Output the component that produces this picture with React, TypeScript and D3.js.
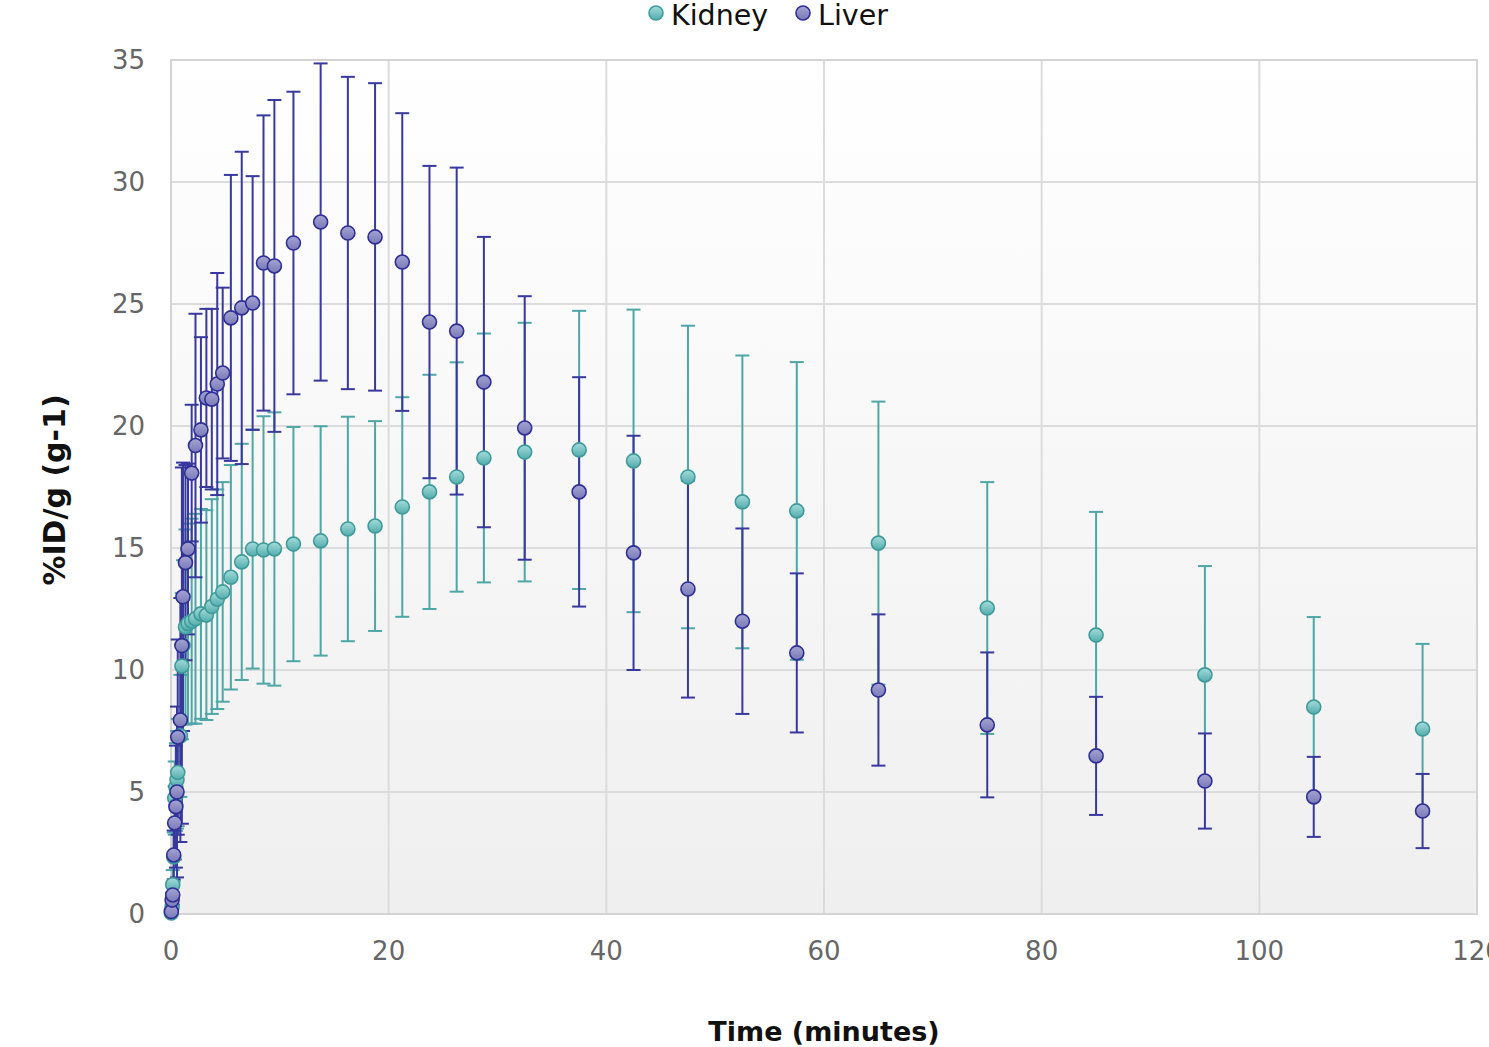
import React from "react";
import * as d3 from "d3";

const times = [0.03, 0.1, 0.16, 0.25, 0.34, 0.45, 0.55, 0.62, 0.86, 1.0, 1.1, 1.33, 1.56, 1.9,
  2.25, 2.75, 3.25, 3.75, 4.25, 4.75,
  5.5, 6.5, 7.5, 8.5, 9.5,
  11.25, 13.75, 16.25, 18.75, 21.25, 23.75, 26.25, 28.75,
  32.5, 37.5, 42.5, 47.5, 52.5, 57.5,
  65, 75, 85, 95, 105, 115];

const kidneyMean = [0.04, 0.3, 1.2, 2.34, 4.75, 5.2, 5.5, 5.8, 7.3, 10.16, 11.0, 11.76, 11.9, 12.0,
  12.1, 12.3, 12.25, 12.6, 12.9, 13.2,
  13.8, 14.43, 14.96, 14.92, 14.96,
  15.16, 15.29, 15.78, 15.9, 16.68, 17.3, 17.91, 18.69,
  18.93, 19.02, 18.57, 17.91, 16.89, 16.52,
  15.2, 12.54, 11.43, 9.8, 8.48, 7.58];

const kidneySd = [0.05, 0.3, 0.6, 1.0, 1.5, 1.8, 2.0, 2.2, 2.5, 3.0, 3.5, 4.0, 4.1, 4.2,
  4.3, 4.3, 4.3, 4.4, 4.5, 4.5,
  4.6, 4.84, 4.9, 5.48, 5.6,
  4.8, 4.7, 4.6, 4.3, 4.5, 4.8, 4.7, 5.1,
  5.3, 5.7, 6.2, 6.2, 6.0, 6.1,
  5.8, 5.16, 5.05, 4.46, 3.69, 3.49];

const liverMean = [0.1, 0.57, 0.78, 2.42, 3.73, 4.4, 5.0, 7.25, 7.95, 11.0, 13.0, 14.4, 14.96, 18.07,
  19.2, 19.84, 21.15, 21.1, 21.72, 22.17,
  24.43, 24.84, 25.04, 26.68, 26.56,
  27.5, 28.36, 27.91, 27.75, 26.72, 24.26, 23.89, 21.8,
  19.92, 17.3, 14.8, 13.32, 12.0, 10.7,
  9.18, 7.75, 6.48, 5.45, 4.8, 4.22];

const liverSd = [0.1, 0.3, 0.4, 1.0, 1.5, 2.5, 3.5, 4.0, 5.0, 7.3, 5.5, 4.0, 3.5, 2.8,
  5.4, 3.8, 3.65, 3.7, 4.55, 3.5,
  5.86, 6.4, 5.2, 6.05, 6.8,
  6.2, 6.5, 6.4, 6.3, 6.1, 6.4, 6.7, 5.95,
  5.4, 4.7, 4.8, 4.45, 3.8, 3.26,
  3.1, 2.97, 2.42, 1.95, 1.64, 1.52];

const xTicks = [0, 20, 40, 60, 80, 100, 120];
const yTicks = [0, 5, 10, 15, 20, 25, 30, 35];
const seriesNames = ["Kidney", "Liver"];

const W = 1489;
const H = 1047;
const plot = { left: 171, top: 60, right: 1477, bottom: 914 };
const FONT = "'DejaVu Sans', Verdana, sans-serif";

const colors = {
  Kidney: { fill: "url(#kidGrad)", stroke: "#3f9a9a", bar: "#4ea6a6" },
  Liver: { fill: "url(#livGrad)", stroke: "#2e2e96", bar: "#38389e" },
};

export default function App() {
  const x = d3.scaleLinear().domain([0, 120]).range([plot.left, plot.right]);
  const y = d3.scaleLinear().domain([0, 35]).range([plot.bottom, plot.top]);

  const series = [
    { name: "Kidney", mean: kidneyMean, sd: kidneySd },
    { name: "Liver", mean: liverMean, sd: liverSd },
  ];

  const whisk = 7;

  return (
    <div>
      <style>{"body{margin:0}"}</style>
      <svg width={W} height={H} style={{ display: "block", fontFamily: FONT }}>
        <defs>
          <linearGradient id="bgGrad" x1="0" y1="0" x2="0" y2="1">
            <stop offset="0" stopColor="#ffffff" />
            <stop offset="1" stopColor="#efefef" />
          </linearGradient>
          <linearGradient id="kidGrad" x1="0" y1="0" x2="0" y2="1">
            <stop offset="0" stopColor="#a6dcdc" />
            <stop offset="1" stopColor="#52acac" />
          </linearGradient>
          <linearGradient id="livGrad" x1="0" y1="0" x2="0" y2="1">
            <stop offset="0" stopColor="#a4a4d2" />
            <stop offset="1" stopColor="#7a7ab8" />
          </linearGradient>
        </defs>
        <rect x={0} y={0} width={W} height={H} fill="#ffffff" />
        <rect x={plot.left} y={plot.top} width={plot.right - plot.left} height={plot.bottom - plot.top} fill="url(#bgGrad)" />
        {yTicks.map((t) => (
          <line key={"gy" + t} x1={plot.left} x2={plot.right} y1={y(t)} y2={y(t)} stroke="#dcdcdc" strokeWidth={2} />
        ))}
        {xTicks.map((t) => (
          <line key={"gx" + t} x1={x(t)} x2={x(t)} y1={plot.top} y2={plot.bottom} stroke="#dcdcdc" strokeWidth={2} />
        ))}
        <rect x={plot.left} y={plot.top} width={plot.right - plot.left} height={plot.bottom - plot.top} fill="none" stroke="#d4d4d4" strokeWidth={2} />
        {yTicks.map((t) => (
          <text key={"ty" + t} x={145} y={y(t)} dy="0.36em" textAnchor="end" fontSize={26} fill="#666666">{t}</text>
        ))}
        {xTicks.map((t) => (
          <text key={"tx" + t} x={x(t)} y={960} textAnchor="middle" fontSize={26} fill="#666666">{t}</text>
        ))}
        <text x={(plot.left + plot.right) / 2} y={1041} textAnchor="middle" fontSize={27} fontWeight="bold" fill="#111">Time (minutes)</text>
        <text transform={`translate(65, ${(plot.top + plot.bottom) / 2 + 3}) rotate(-90)`} textAnchor="middle" fontSize={30} fontWeight="bold" fill="#111">%ID/g (g-1)</text>
        {series.map((s) => (
          <g key={"eb" + s.name} stroke={colors[s.name].bar} strokeWidth={2} fill="none">
            {times.map((t, i) => {
              const cx = x(t);
              const y1 = y(s.mean[i] + s.sd[i]);
              const y0 = y(Math.max(0, s.mean[i] - s.sd[i]));
              return (
                <g key={i}>
                  <line x1={cx} x2={cx} y1={y1} y2={y0} />
                  <line x1={cx - whisk} x2={cx + whisk} y1={y1} y2={y1} />
                  <line x1={cx - whisk} x2={cx + whisk} y1={y0} y2={y0} />
                </g>
              );
            })}
          </g>
        ))}
        {series.map((s) => (
          <g key={"mk" + s.name}>
            {times.map((t, i) => (
              <circle key={i} cx={x(t)} cy={y(s.mean[i])} r={7} fill={colors[s.name].fill} stroke={colors[s.name].stroke} strokeWidth={1.6} />
            ))}
          </g>
        ))}
        <g>
          <circle cx={656} cy={13} r={7} fill="url(#kidGrad)" stroke={colors.Kidney.stroke} strokeWidth={1.6} />
          <text x={671} y={25} fontSize={28.5} fill="#111">{seriesNames[0]}</text>
          <circle cx={803} cy={13} r={7} fill="url(#livGrad)" stroke={colors.Liver.stroke} strokeWidth={1.6} />
          <text x={818} y={25} fontSize={28.5} fill="#111">{seriesNames[1]}</text>
        </g>
      </svg>
    </div>
  );
}
